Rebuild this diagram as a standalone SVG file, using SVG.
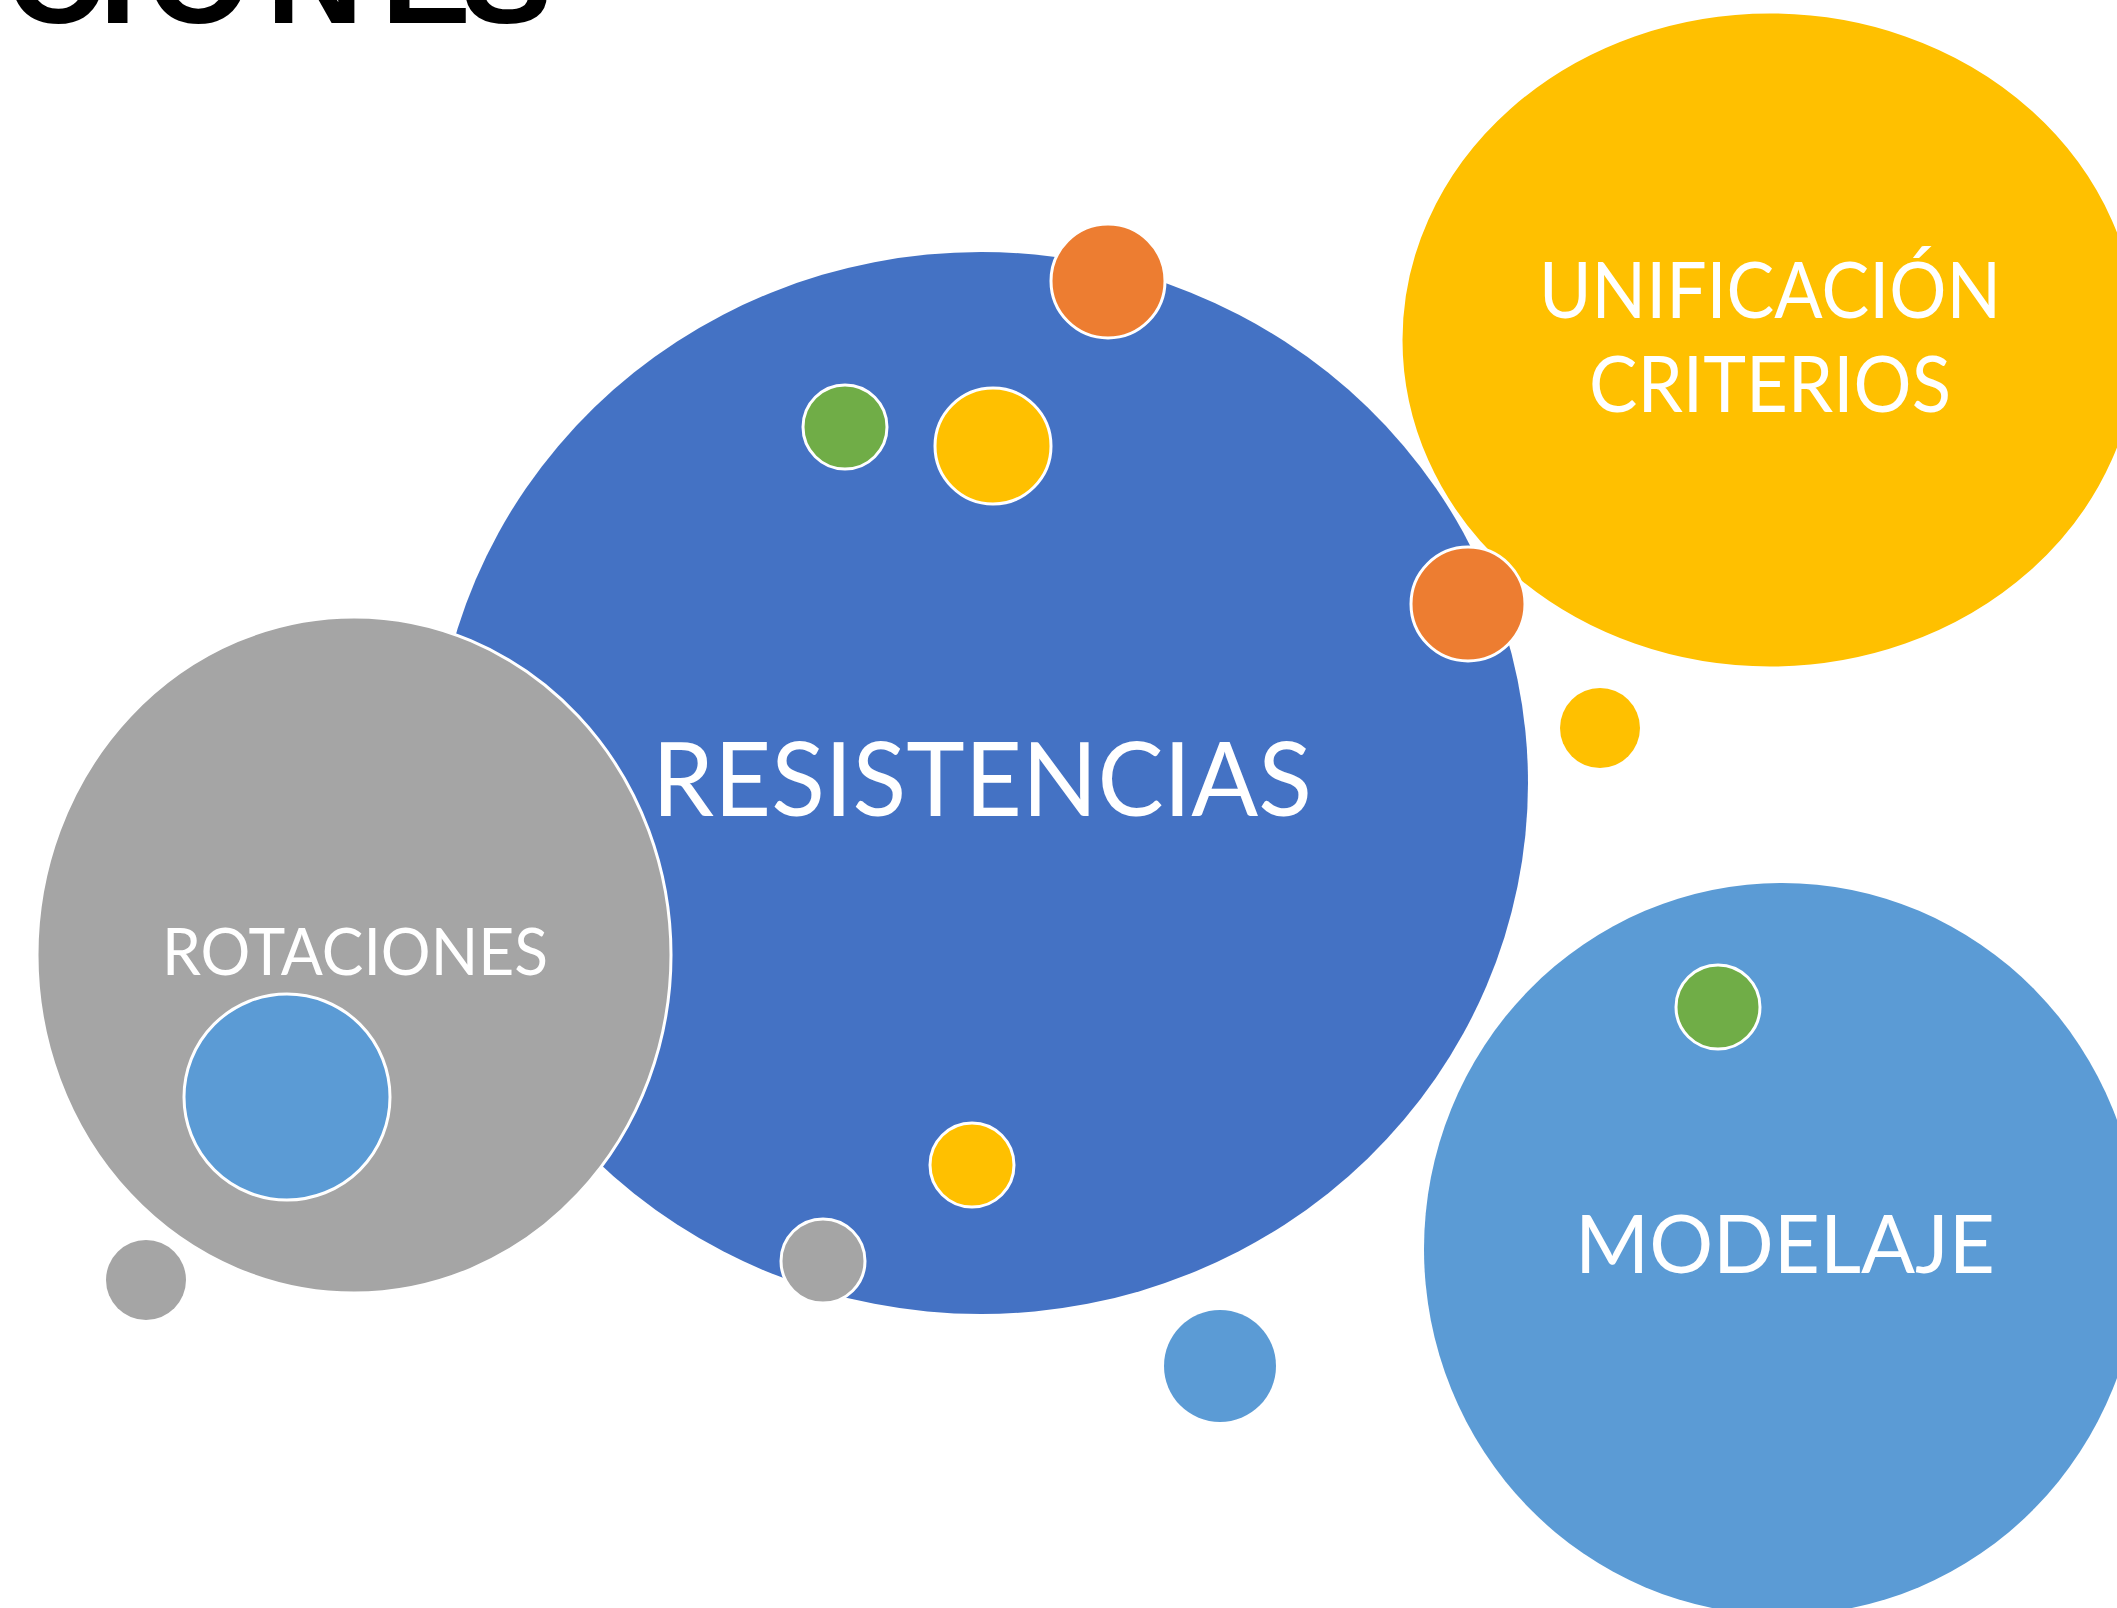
<svg xmlns="http://www.w3.org/2000/svg" width="2117" height="1608" viewBox="0 0 2117 1608">
  <style>
    .blue { fill: #4472C4; }
    .orange { fill: #ED7D31; }
    .gray { fill: #A5A5A5; }
    .yellow { fill: #FFC000; }
    .lblue { fill: #5B9BD5; }
    .green { fill: #70AD47; }
    .edge { stroke: #FFFFFF; stroke-width: 3; }
    .label { fill: #FFFFFF; font-family: Lato, "Open Sans", "Liberation Sans", sans-serif; text-anchor: middle; }
    .title { fill: #000000; font-family: "Liberation Sans", "DejaVu Sans", sans-serif; font-weight: bold; font-size: 135px; }
  </style>
  <rect x="0" y="0" width="2117" height="1608" fill="#FFFFFF"/>

  <text class="title" x="6 99 146 266 381 462" y="23">CIONES</text>

  <g id="node-resistencias">
    <ellipse class="blue" cx="981" cy="783" rx="547" ry="531"/>
    <text class="label" x="982" y="816" font-size="103" textLength="660" lengthAdjust="spacingAndGlyphs">RESISTENCIAS</text>
  </g>

  <g id="node-unificacion">
    <ellipse class="yellow edge" cx="1770" cy="340" rx="369" ry="328"/>
    <text class="label" x="1770" y="318" font-size="77" textLength="462" lengthAdjust="spacingAndGlyphs">UNIFICACIÓN</text>
    <text class="label" x="1770" y="412" font-size="77" textLength="362" lengthAdjust="spacingAndGlyphs">CRITERIOS</text>
  </g>

  <g id="node-modelaje">
    <ellipse class="lblue" cx="1782" cy="1249" rx="358" ry="366"/>
    <text class="label" x="1785" y="1273" font-size="82" textLength="420" lengthAdjust="spacingAndGlyphs">MODELAJE</text>
  </g>

  <g id="node-rotaciones">
    <ellipse class="gray edge" cx="354" cy="955" rx="317" ry="338"/>
    <text class="label" x="355" y="975" font-size="66" textLength="386" lengthAdjust="spacingAndGlyphs">ROTACIONES</text>
  </g>

  <g id="dots">
    <circle id="dot-orange-top" class="orange edge" cx="1108" cy="281" r="57"/>
    <circle id="dot-green-top" class="green edge" cx="845" cy="427" r="42"/>
    <circle id="dot-yellow-top" class="yellow edge" cx="993" cy="446" r="58"/>
    <circle id="dot-orange-right" class="orange edge" cx="1468" cy="604" r="57"/>
    <circle id="dot-yellow-outside" class="yellow" cx="1600" cy="728" r="40"/>
    <circle id="dot-green-modelaje" class="green edge" cx="1718" cy="1007" r="42"/>
    <circle id="dot-yellow-bottom" class="yellow edge" cx="972" cy="1165" r="42"/>
    <circle id="dot-gray-bottom" class="gray edge" cx="823" cy="1261" r="42"/>
    <circle id="dot-lblue-bottom" class="lblue" cx="1220" cy="1366" r="56"/>
    <circle id="dot-gray-outside" class="gray" cx="146" cy="1280" r="40"/>
    <circle id="dot-lblue-rotaciones" class="lblue edge" cx="287" cy="1097" r="103"/>
  </g>

  <g id="connectors"/>
</svg>
